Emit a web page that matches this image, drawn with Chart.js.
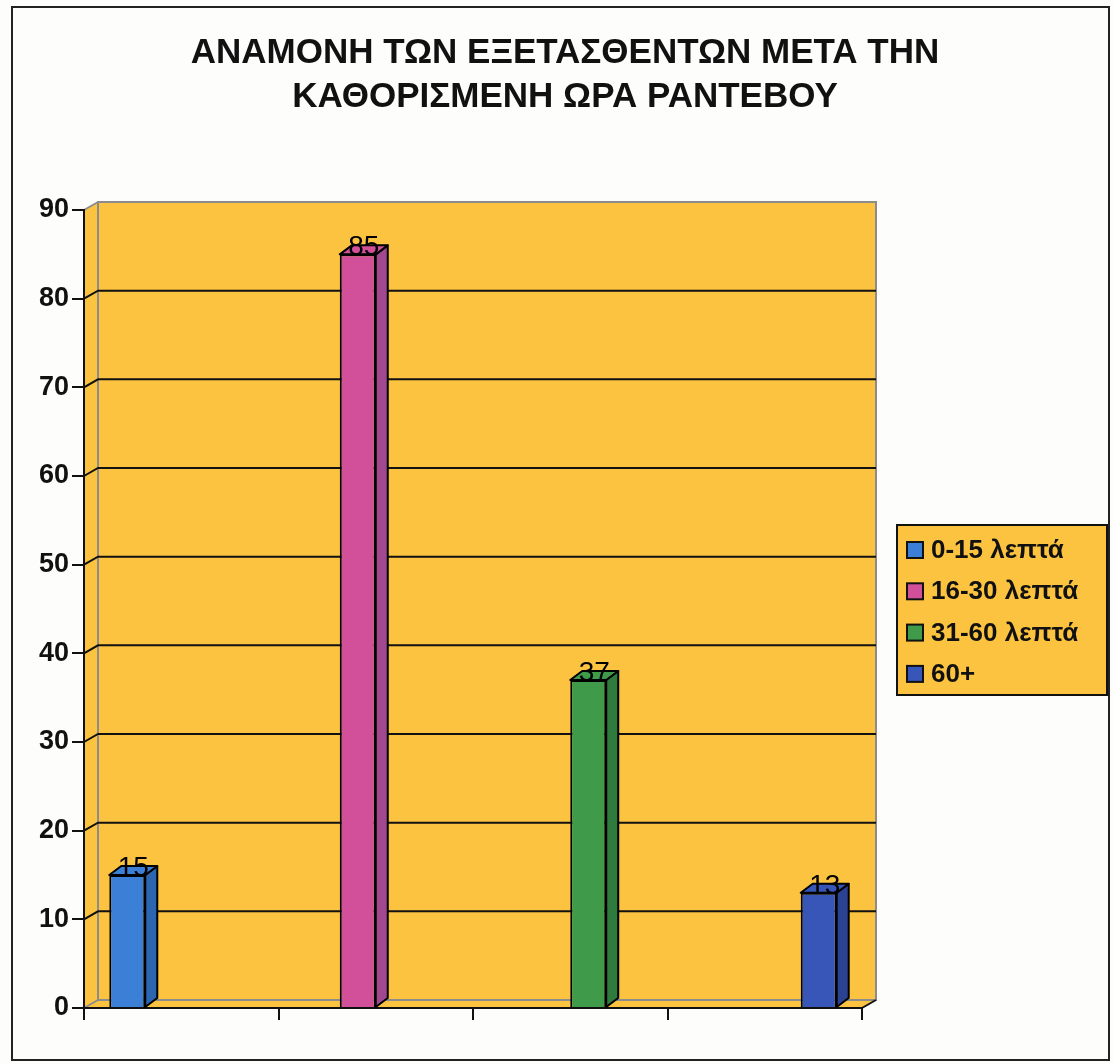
<!DOCTYPE html>
<html>
<head>
<meta charset="utf-8">
<script src="https://cdn.jsdelivr.net/npm/chart.js@4.4.0/dist/chart.umd.min.js"></script>
<style>
  html, body { margin: 0; padding: 0; background: #fff; }
</style>
</head>
<body>
<canvas id="myChart" width="1113" height="1064"></canvas>
<script>
var titleLines = ["ΑΝΑΜΟΝΗ ΤΩΝ ΕΞΕΤΑΣΘΕΝΤΩΝ ΜΕΤΑ ΤΗΝ", "ΚΑΘΟΡΙΣΜΕΝΗ ΩΡΑ ΡΑΝΤΕΒΟΥ"];
var categories = ["0-15 λεπτά", "16-30 λεπτά", "31-60 λεπτά", "60+"];
var values = [15, 85, 37, 13];
var yTicks = [0, 10, 20, 30, 40, 50, 60, 70, 80, 90];
var frontColors = ["#3b7fd6", "#d2509a", "#3f9a4a", "#3855b8"];
var sideColors = ["#2d66b0", "#a2488f", "#2f7a3d", "#2b4292"];

var wallColor = "#fbc33f";
var fontFam = "Arial, 'Liberation Sans', sans-serif";

var datasets = categories.map(function(c, i) {
  return {
    label: c,
    data: values.map(function(v, j) { return j === i ? v : null; }),
    backgroundColor: frontColors[i],
    borderColor: "#000",
    borderWidth: 2,
    barPercentage: 1,
    categoryPercentage: 0.74
  };
});

// walls, floor, back gridlines, title, frame
var backdrop = {
  id: "backdrop",
  beforeDraw: function(chart) {
    var ctx = chart.ctx, ca = chart.chartArea, ys = chart.scales.y;
    var dx = 14, dy = -8;
    ctx.save();
    ctx.fillStyle = "#fdfdfc";
    ctx.fillRect(0, 0, chart.width, chart.height);

    ctx.fillStyle = wallColor;
    ctx.fillRect(ca.left + dx, ca.top + dy, ca.right - ca.left, ca.bottom - ca.top);
    ctx.beginPath();
    ctx.moveTo(ca.left, ca.top); ctx.lineTo(ca.left + dx, ca.top + dy);
    ctx.lineTo(ca.left + dx, ca.bottom + dy); ctx.lineTo(ca.left, ca.bottom);
    ctx.closePath(); ctx.fill();
    ctx.beginPath();
    ctx.moveTo(ca.left, ca.bottom); ctx.lineTo(ca.left + dx, ca.bottom + dy);
    ctx.lineTo(ca.right + dx, ca.bottom + dy); ctx.lineTo(ca.right, ca.bottom);
    ctx.closePath(); ctx.fill();

    // wall edges
    ctx.strokeStyle = "#8c8c8c";
    ctx.lineWidth = 2;
    ctx.strokeRect(ca.left + dx, ca.top + dy, ca.right - ca.left, ca.bottom - ca.top);
    ctx.beginPath();
    ctx.moveTo(ca.left, ca.top); ctx.lineTo(ca.left + dx, ca.top + dy);
    ctx.moveTo(ca.left, ca.bottom); ctx.lineTo(ca.left + dx, ca.bottom + dy);
    ctx.stroke();

    // gridlines on side and back wall
    ctx.strokeStyle = "#111";
    yTicks.forEach(function(v) {
      if (v === yTicks[0] || v === yTicks[yTicks.length - 1]) return;
      var y = ys.getPixelForValue(v);
      ctx.beginPath();
      ctx.moveTo(ca.left, y);
      ctx.lineTo(ca.left + dx, y + dy);
      ctx.lineTo(ca.right + dx, y + dy);
      ctx.stroke();
    });

    // floor right edge
    ctx.beginPath();
    ctx.moveTo(ca.right, ca.bottom); ctx.lineTo(ca.right + dx, ca.bottom + dy);
    ctx.stroke();

    // title
    ctx.fillStyle = "#111";
    ctx.font = "bold 35px " + fontFam;
    ctx.textAlign = "center";
    ctx.textBaseline = "middle";
    ctx.fillText(titleLines[0], 565, 53);
    ctx.fillText(titleLines[1], 565, 97);

    // frame
    ctx.strokeStyle = "#222";
    ctx.lineWidth = 2;
    ctx.strokeRect(12, 7, 1097, 1053);
    ctx.restore();
  }
};

// 3D sides, tops and value labels
var bars3d = {
  id: "bars3d",
  afterDatasetsDraw: function(chart) {
    var ctx = chart.ctx;
    var dx = 12, dy = -9;
    ctx.save();
    ctx.lineWidth = 2;
    ctx.strokeStyle = "#000";
    ctx.lineJoin = "round";
    chart.data.datasets.forEach(function(ds, i) {
      var meta = chart.getDatasetMeta(i);
      meta.data.forEach(function(bar, j) {
        if (ds.data[j] == null) return;
        var p = bar.getProps(["x", "y", "base", "width"], true);
        var l = p.x - p.width / 2, r = p.x + p.width / 2, t = p.y, b = p.base;
        ctx.fillStyle = sideColors[i];
        ctx.beginPath();
        ctx.moveTo(r, t); ctx.lineTo(r + dx, t + dy);
        ctx.lineTo(r + dx, b + dy); ctx.lineTo(r, b);
        ctx.closePath(); ctx.fill(); ctx.stroke();
        ctx.fillStyle = frontColors[i];
        ctx.beginPath();
        ctx.moveTo(l, t); ctx.lineTo(l + dx, t + dy);
        ctx.lineTo(r + dx, t + dy); ctx.lineTo(r, t);
        ctx.closePath(); ctx.fill(); ctx.stroke();

        ctx.fillStyle = "#000";
        ctx.font = "28px " + fontFam;
        ctx.textAlign = "center";
        ctx.textBaseline = "alphabetic";
        ctx.fillText(String(ds.data[j]), p.x + dx / 2, t + 1);
      });
    });
    ctx.restore();
  }
};

// legend box on the right
var legendBox = {
  id: "legendBox",
  afterDraw: function(chart) {
    var ctx = chart.ctx;
    var x = 897, y = 525, w = 210, h = 170;
    ctx.save();
    ctx.fillStyle = wallColor;
    ctx.fillRect(x, y, w, h);
    ctx.strokeStyle = "#111";
    ctx.lineWidth = 2;
    ctx.strokeRect(x, y, w, h);
    ctx.font = "bold 26px " + fontFam;
    ctx.textBaseline = "middle";
    ctx.textAlign = "left";
    chart.data.datasets.forEach(function(ds, i) {
      var cy = 550 + i * 41.3;
      ctx.fillStyle = ds.backgroundColor;
      ctx.fillRect(907, cy - 8, 16, 16);
      ctx.strokeRect(907, cy - 8, 16, 16);
      ctx.fillStyle = "#111";
      ctx.fillText(ds.label, 931, cy + 1);
    });
    ctx.restore();
  }
};

new Chart("myChart", {
  type: "bar",
  data: {
    labels: categories,
    datasets: datasets
  },
  options: {
    responsive: false,
    animation: false,
    layout: { padding: { top: 210, right: 251, bottom: 0, left: 0 } },
    plugins: {
      legend: { display: false },
      title: { display: false },
      tooltip: { enabled: false }
    },
    scales: {
      x: {
        grid: { display: true, drawOnChartArea: false, drawTicks: true, tickLength: 12, color: "#111", lineWidth: 2, offset: true },
        border: { color: "#111", width: 2 },
        ticks: { display: false },
        afterFit: function(s) { s.height = 56; }
      },
      y: {
        min: 0,
        max: 90,
        afterBuildTicks: function(s) { s.ticks = yTicks.map(function(v) { return { value: v }; }); },
        ticks: { color: "#111", padding: 3, font: { family: fontFam, size: 27, weight: "bold" } },
        grid: { drawOnChartArea: false, tickLength: 12, color: "#111", lineWidth: 2 },
        border: { color: "#111", width: 2 },
        afterFit: function(s) { s.width = 84; }
      }
    }
  },
  plugins: [backdrop, bars3d, legendBox]
});
</script>
</body>
</html>
